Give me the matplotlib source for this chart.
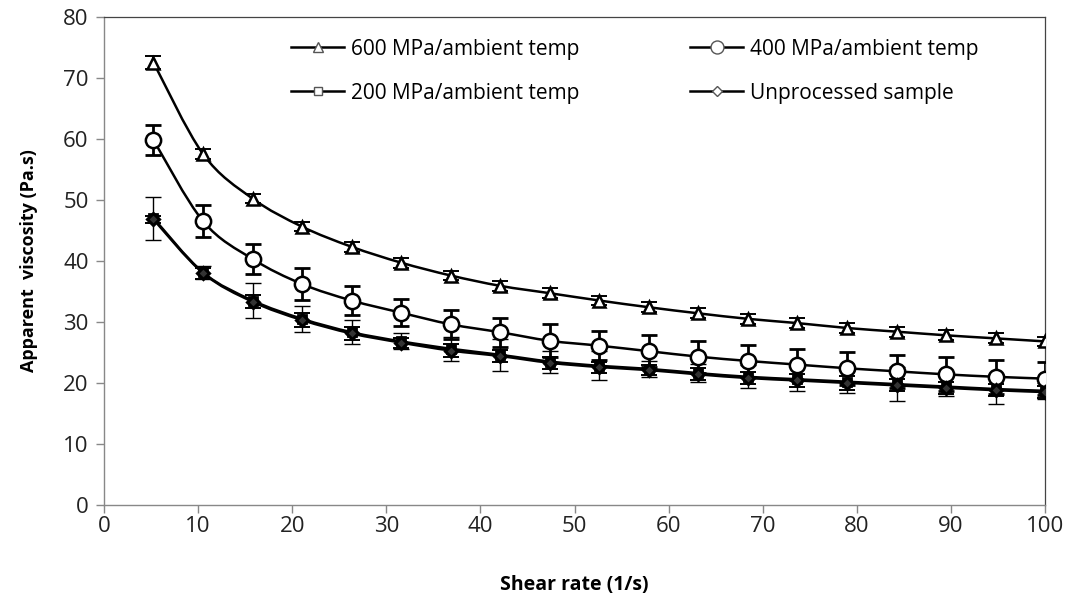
import numpy as np
import matplotlib
matplotlib.use("Agg")
import matplotlib.pyplot as plt
from matplotlib.path import Path
from matplotlib.patches import PathPatch
from matplotlib.lines import Line2D

plt.rcParams['font.family'] = ['Open Sans', 'DejaVu Sans']

# shear rate points (1/s)
shear = [5.26, 10.53, 15.79, 21.05, 26.32, 31.58, 36.84, 42.11, 47.37, 52.63,
         57.89, 63.16, 68.42, 73.68, 78.95, 84.21, 89.47, 94.74, 100.0]

# apparent viscosity (Pa.s)
visc_600 = [72.5, 57.5, 50.2, 45.6, 42.3, 39.7, 37.6, 35.9, 34.7, 33.5,
            32.4, 31.4, 30.5, 29.8, 29.0, 28.4, 27.8, 27.3, 26.8]
err_600 = [1.0, 0.8, 0.7, 0.7, 0.8, 0.8, 0.8, 0.8, 0.8, 0.8,
           0.8, 0.8, 0.8, 0.8, 0.8, 0.8, 0.8, 0.8, 0.8]

visc_400 = [59.8, 46.5, 40.3, 36.2, 33.5, 31.5, 29.6, 28.3, 26.9, 26.1,
            25.2, 24.3, 23.6, 23.0, 22.4, 21.9, 21.4, 21.0, 20.7]
err_400 = [2.5, 2.6, 2.5, 2.6, 2.3, 2.2, 2.4, 2.4, 2.7, 2.4,
           2.6, 2.6, 2.6, 2.6, 2.7, 2.7, 2.8, 2.8, 2.7]

visc_200 = [47.0, 38.1, 33.5, 30.5, 28.3, 26.8, 25.6, 24.6, 23.5, 22.8,
            22.3, 21.6, 21.0, 20.6, 20.2, 19.8, 19.4, 19.0, 18.7]
err_200 = [3.5, 1.0, 2.8, 2.1, 2.0, 1.3, 2.0, 2.6, 1.8, 2.4,
           1.3, 1.5, 1.9, 2.0, 1.8, 2.8, 1.5, 2.5, 1.3]

visc_raw = [46.8, 38.0, 33.3, 30.3, 28.1, 26.6, 25.3, 24.4, 23.3, 22.6,
            22.1, 21.4, 20.8, 20.4, 20.0, 19.6, 19.2, 18.8, 18.5]
err_raw = [0.6, 0.9, 1.1, 1.2, 1.0, 0.8, 1.1, 1.0, 1.0, 0.9,
           0.8, 1.0, 1.0, 1.0, 1.1, 1.0, 1.0, 1.0, 1.0]

labels = ["600 MPa/ambient temp", "400 MPa/ambient temp",
          "200 MPa/ambient temp", "Unprocessed sample"]


def smooth_path(x, y, t=1.0 / 6):
    # Excel style smoothed line: bezier segments through the points
    x = np.asarray(x, float)
    y = np.asarray(y, float)
    verts = [(x[0], y[0])]
    codes = [Path.MOVETO]
    n = len(x)
    for i in range(n - 1):
        i0 = max(i - 1, 0)
        i3 = min(i + 2, n - 1)
        c1 = (x[i] + (x[i + 1] - x[i0]) * t, y[i] + (y[i + 1] - y[i0]) * t)
        c2 = (x[i + 1] - (x[i3] - x[i]) * t, y[i + 1] - (y[i3] - y[i]) * t)
        verts += [c1, c2, (x[i + 1], y[i + 1])]
        codes += [Path.CURVE4] * 3
    return Path(verts, codes)


fig = plt.figure(figsize=(10.72, 5.99), dpi=100)
ax = fig.add_axes([0.097, 0.157, 0.878, 0.815])

# values, errors, marker, size, edge width, face, errorbar width
series = [
    (visc_600, err_600, "^", 9, 1.8, "white", 1.4),
    (visc_400, err_400, "o", 11, 1.8, "white", 2.0),
    (visc_200, err_200, "s", 6, 2.0, "white", 1.0),
    (visc_raw, err_raw, "D", 6, 2.2, "#333333", 1.4),
]

handles = []
for (vals, errs, mk, ms, mew, face, elw), lab in zip(series, labels):
    ax.add_patch(PathPatch(smooth_path(shear, vals), fill=False,
                           edgecolor="black", lw=1.8, zorder=2))
    ax.errorbar(shear, vals, yerr=errs, fmt="none", ecolor="black",
                elinewidth=elw, capsize=6, capthick=elw, zorder=3)
    ax.plot(shear, vals, linestyle="none", marker=mk, markersize=ms,
            markerfacecolor=face, markeredgecolor="black",
            markeredgewidth=mew, zorder=4)
    handles.append(Line2D([], [], color="black", lw=1.8, marker=mk,
                          markersize=ms * 0.85, markerfacecolor="white",
                          markeredgecolor="#555555", markeredgewidth=1.0))

ax.set_xlim(0, 100)
ax.set_ylim(0, 80)
ax.set_xticks(np.arange(0, 101, 10))
ax.set_yticks(np.arange(0, 81, 10))
ax.tick_params(axis="both", direction="out", length=6, width=1,
               color="#888888", labelsize=16, labelcolor="#222222")
ax.tick_params(axis="x", pad=2)
ax.tick_params(axis="y", pad=5)
for side in ["left", "bottom"]:
    ax.spines[side].set_color("#888888")
    ax.spines[side].set_linewidth(1.0)
for side in ["top", "right"]:
    ax.spines[side].set_color("#444444")
    ax.spines[side].set_linewidth(0.9)

ax.set_xlabel("Shear rate (1/s)", fontsize=14, fontweight="bold", labelpad=27)
ax.set_ylabel("Apparent  viscosity (Pa.s)", fontsize=13, fontweight="bold", labelpad=18)

order = [0, 2, 1, 3]
ax.legend([handles[i] for i in order], [labels[i] for i in order],
          ncol=2, frameon=False, loc="upper left",
          bbox_to_anchor=(0.19, 0.972), fontsize=15, handlelength=2.55,
          handletextpad=0.34, columnspacing=5.3, labelspacing=1.1,
          borderaxespad=0)

fig.savefig("out.png", dpi=100)
